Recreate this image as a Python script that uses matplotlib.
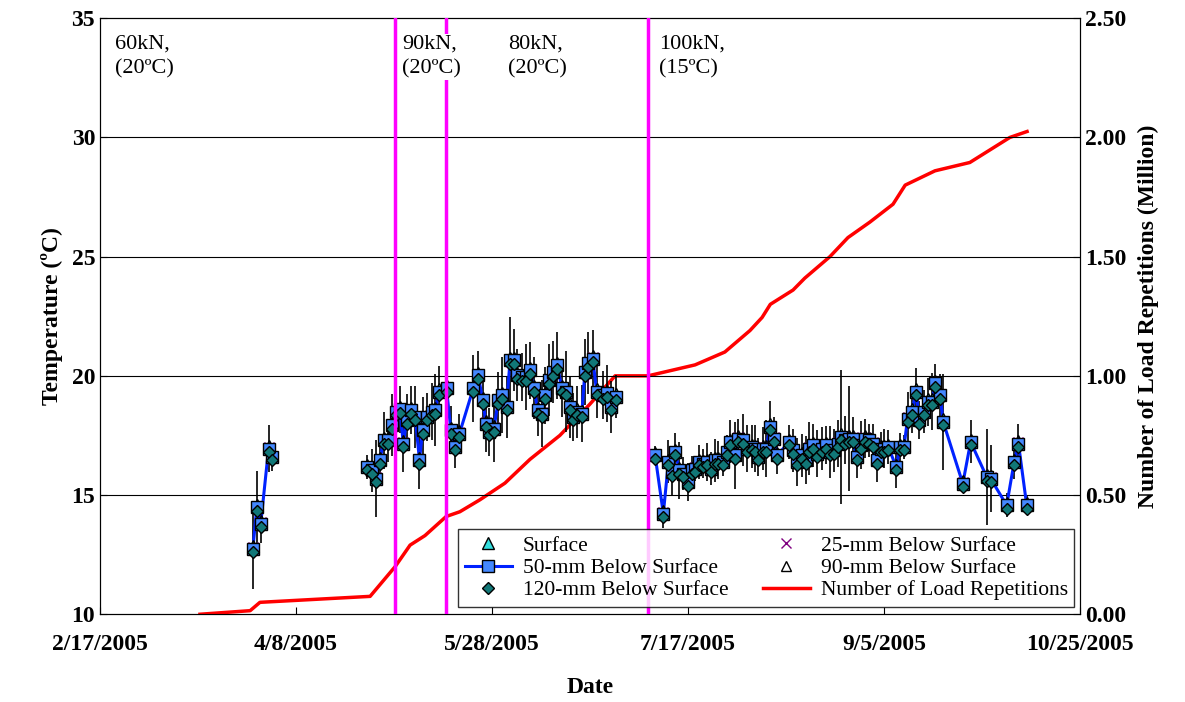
import matplotlib
matplotlib.use("Agg")
import matplotlib.pyplot as plt
import numpy as np
import pandas as pd
from matplotlib.lines import Line2D

plt.rcParams['font.family'] = ['Liberation Serif', 'DejaVu Serif']

inicio = pd.Timestamp("2005-02-17")

# dias desde 2/17/2005 e temperatura a 50 mm (ºC)
dias_temp = [39, 40, 41, 43, 44,
             68.0, 69.3, 70.3, 71.4, 72.4, 73.5, 74.4, 75.5, 76.4, 77.4, 78.2, 79.3, 80.4, 81.5, 82.3,
             83.3, 84.6, 85.5, 86.5, 88.4, 89.5, 90.6, 91.7, 95.2, 96.5, 97.6, 98.5, 99.3, 100.5, 101.6,
             102.6, 103.7, 104.6, 105.6, 106.3, 107.6, 108.7, 109.7, 110.7, 111.7, 112.7, 113.5, 114.6,
             115.6, 116.7, 117.8, 118.8, 119.9, 120.7, 121.8, 122.9, 123.7, 124.6, 125.7, 126.7, 128.2,
             129.4, 130.3, 131.6,
             141.6, 143.7, 145.0, 145.8, 146.7, 147.8, 148.8, 150.1, 150.9, 151.8, 152.9, 153.9, 154.8,
             155.8, 156.9, 157.7, 158.8, 159.9, 160.7, 162.0, 162.8, 164.1, 165.1, 166.2, 167.1, 167.9,
             169.1, 169.9, 170.9, 172.0, 172.8, 175.8, 176.9, 177.9, 179.0, 180.0, 180.9, 182.0, 183.0,
             184.1, 185.1, 186.2, 187.2, 188.3, 189.0, 190.1, 191.1, 192.0, 193.0, 194.1, 195.2, 196.2,
             197.1, 198.1, 199.2, 200.1, 201.1, 203.1, 204.1, 205.1, 206.0, 207.1, 208.2, 209.0, 210.2,
             211.1, 212.2, 213.1, 214.3, 215.1, 220.1, 222.1, 226.2, 227.2, 231.3, 233.2, 234.3, 236.4]
temp_50mm = [12.75, 14.50, 13.80, 16.95, 16.60,
             16.18, 16.04, 15.69, 16.46, 17.30, 17.30, 17.93, 18.49, 18.59, 17.16, 18.14, 18.56, 18.28,
             16.46, 17.72, 18.28, 18.49, 18.56, 19.33, 19.47, 17.72, 17.02, 17.58, 19.47, 20.03, 18.98,
             18.00, 17.65, 17.79, 18.98, 19.19, 18.70, 20.65, 20.65, 20.03, 19.95, 19.95, 20.23, 19.47,
             18.56, 18.42, 19.19, 19.82, 20.16, 20.44, 19.47, 19.33, 18.70, 18.28, 18.49, 18.42, 20.16,
             20.52, 20.72, 19.33, 19.19, 19.26, 18.70, 19.12,
             16.67, 14.22, 16.39, 15.97, 16.81, 16.04, 15.90, 15.55, 16.04, 16.11, 16.39, 16.32, 16.39,
             16.11, 16.46, 16.46, 16.39, 16.81, 17.23, 16.67, 17.37, 17.30, 16.95, 17.02, 16.95, 16.60,
             16.95, 16.95, 17.86, 17.37, 16.67, 17.23, 16.88, 16.39, 16.67, 16.46, 16.95, 17.09, 16.74,
             16.95, 17.09, 16.81, 16.88, 17.16, 17.44, 17.30, 17.37, 17.37, 16.60, 17.09, 17.37, 17.30,
             17.16, 16.46, 16.95, 16.95, 17.02, 16.18, 17.02, 17.02, 18.21, 18.49, 19.33, 18.14, 18.49,
             18.91, 18.91, 19.68, 19.19, 18.07, 15.48, 17.23, 15.76, 15.69, 14.57, 16.39, 17.16, 14.57]
# amplitude diária (meia-faixa, ºC)
faixa = [1.7, 1.5, 0.8, 1.0, 0.6,
         0.5, 0.9, 1.6, 0.8, 1.2, 0.9, 1.3, 1.1, 1.0, 1.2, 1.1, 1.0, 1.3, 1.2, 1.4,
         1.0, 1.2, 1.5, 1.1, 1.4, 1.0, 0.9, 0.8, 1.4, 1.0, 1.3, 1.2, 1.0, 1.4, 1.2,
         1.6, 1.3, 1.8, 1.3, 1.1, 1.0, 1.4, 1.2, 1.3, 1.1, 1.4, 1.2, 1.5, 1.3, 1.4,
         1.2, 1.7, 1.3, 1.0, 1.1, 1.2, 1.4, 1.3, 1.2, 1.1, 1.0, 1.2, 1.1, 0.9,
         0.4, 0.6, 0.9, 1.0, 0.8, 1.2, 0.7, 0.8, 0.6, 0.5, 0.7, 0.6, 0.8,
         0.7, 0.9, 0.8, 0.6, 0.7, 0.9, 1.4, 0.8, 1.1, 1.0, 0.9, 1.0, 0.8,
         0.9, 1.2, 1.1, 0.9, 0.8, 0.7, 0.9, 1.0, 0.9, 1.0, 1.1, 0.9, 1.0,
         0.9, 0.8, 1.1, 0.9, 1.0, 2.8, 1.0, 2.2, 0.9, 0.9, 1.0, 0.8, 0.7,
         0.8, 0.9, 0.7, 0.8, 0.7, 0.9, 0.6, 0.5, 1.1, 0.9, 1.0, 0.8, 0.9,
         1.0, 1.2, 0.8, 0.9, 2.0, 0.3, 0.9, 2.0, 1.4, 0.5, 0.7, 0.8, 0.4]

# repetições de carga (milhões)
dias_rep = [25.5, 38.3, 40.8, 68.9, 75.3, 79.1, 82.9, 88.3, 91.8, 96.9, 103.3, 109.7, 117.3,
            124.9, 131.4, 139.8, 151.8, 159.4, 165.8, 168.9, 171.0, 176.8, 179.8, 186.2,
            190.8, 196.4, 202.3, 205.4, 213.0, 221.9, 232.1, 236.5]
repeticoes = [0.0, 0.015, 0.05, 0.075, 0.2, 0.29, 0.33, 0.41, 0.43, 0.48, 0.55, 0.65, 0.75,
              0.88, 1.0, 1.0, 1.046, 1.1, 1.19, 1.245, 1.30, 1.36, 1.41, 1.50, 1.58, 1.645,
              1.72, 1.80, 1.86, 1.895, 2.0, 2.025]

dias_mudanca = [75.3, 88.3, 139.8]
rotulos = [(3.8, "60kN,\n(20ºC)"), (77.0, "90kN,\n(20ºC)"), (104.0, "80kN,\n(20ºC)"), (142.5, "100kN,\n(15ºC)")]

datas_temp = [inicio + pd.Timedelta(days=d) for d in dias_temp]
datas_rep = [inicio + pd.Timedelta(days=d) for d in dias_rep]
t = np.array(temp_50mm)
f = np.array(faixa)

fig = plt.figure(figsize=(11.85, 7.02), dpi=100)
ax = fig.add_axes([0.0844, 0.125, 0.8270, 0.849])
ax2 = ax.twinx()

for y in [15, 20, 25, 30]:
    ax.axhline(y, color="black", lw=0.8, zorder=0)

ax.vlines(datas_temp, t - f, t + f, color="black", lw=1.2, zorder=1)

# grupos separados para não ligar as lacunas
grupos = [(0, 5), (5, 64), (64, len(dias_temp))]
for a, b in grupos:
    ax.plot(datas_temp[a:b], t[a:b], color="#0022ff", lw=2.2, zorder=2)
ax.plot(datas_temp, t + 0.1, ls="none", marker="^", ms=8, mfc="#33dddd", mec="black", zorder=3)
ax.plot(datas_temp, t + 0.05, ls="none", marker="x", ms=7, mec="#800080", zorder=3)
ax.plot(datas_temp, t, ls="none", marker="s", ms=8, mfc="#4488ff", mec="black", zorder=4)
ax.plot(datas_temp, t + 0.05, ls="none", marker="^", ms=7, mfc="white", mec="black", zorder=3)
ax.plot(datas_temp, t - 0.15, ls="none", marker="D", ms=6, mfc="#117777", mec="black", zorder=5)

for d in dias_mudanca:
    ax.axvline(inicio + pd.Timedelta(days=d), color="#ff00ff", lw=2.5, zorder=6)
for d, txt in rotulos:
    ax.text(inicio + pd.Timedelta(days=d), 34.3, txt, fontsize=16, va="top", ha="left",
            linespacing=1.4, zorder=8,
            bbox=dict(facecolor="white", edgecolor="none", pad=1.0))

ax2.plot(datas_rep, repeticoes, color="red", lw=2.5, zorder=7)
ax.set_zorder(ax2.get_zorder() + 1)
ax.patch.set_visible(False)

ax.set_ylim(10, 35)
ax2.set_ylim(0, 2.5)
ax.set_yticks(range(10, 36, 5))
ax2.set_yticks(np.arange(0, 2.51, 0.5))
ax2.set_yticklabels([f"{v:.2f}" for v in np.arange(0, 2.51, 0.5)])
ticks = [inicio + pd.Timedelta(days=50 * i) for i in range(6)]
ax.set_xlim(ticks[0], ticks[-1])
ax.set_xticks(ticks)
ax.set_xticklabels([f"{d.month}/{d.day}/{d.year}" for d in ticks])
for a_ in (ax, ax2):
    a_.tick_params(labelsize=17, direction="in", length=5)
    for lab in a_.get_xticklabels() + a_.get_yticklabels():
        lab.set_fontweight("bold")
ax.tick_params(axis="x", pad=14)
ax.set_xlabel("Date", fontsize=17, fontweight="bold", labelpad=16)
ax.set_ylabel("Temperature (ºC)", fontsize=17, fontweight="bold", labelpad=6)
ax2.set_ylabel("Number of Load Repetitions (Million)", fontsize=17, fontweight="bold", labelpad=8)

handles = [
    Line2D([], [], ls="none", marker="^", ms=8, mfc="#33dddd", mec="black"),
    Line2D([], [], color="#0022ff", lw=2.2, marker="s", ms=8, mfc="#4488ff", mec="black"),
    Line2D([], [], ls="none", marker="D", ms=6, mfc="#117777", mec="black"),
    Line2D([], [], ls="none", marker="x", ms=7, mec="#800080"),
    Line2D([], [], ls="none", marker="^", ms=7, mfc="white", mec="black"),
    Line2D([], [], color="red", lw=2.5),
]
labels = ["Surface", "50-mm Below Surface", "120-mm Below Surface",
          "25-mm Below Surface", "90-mm Below Surface", "Number of Load Repetitions"]
leg = ax.legend(handles, labels, ncol=2, loc="lower right", bbox_to_anchor=(1.002, 0.0),
                fontsize=15.5, frameon=True, fancybox=False, edgecolor="black",
                borderaxespad=0.35, handlelength=2.2, labelspacing=0.1, columnspacing=1.6,
                borderpad=0.3, handletextpad=0.5)
leg.get_frame().set_linewidth(1.0)
leg.set_zorder(20)

fig.savefig("out.png", dpi=100)
